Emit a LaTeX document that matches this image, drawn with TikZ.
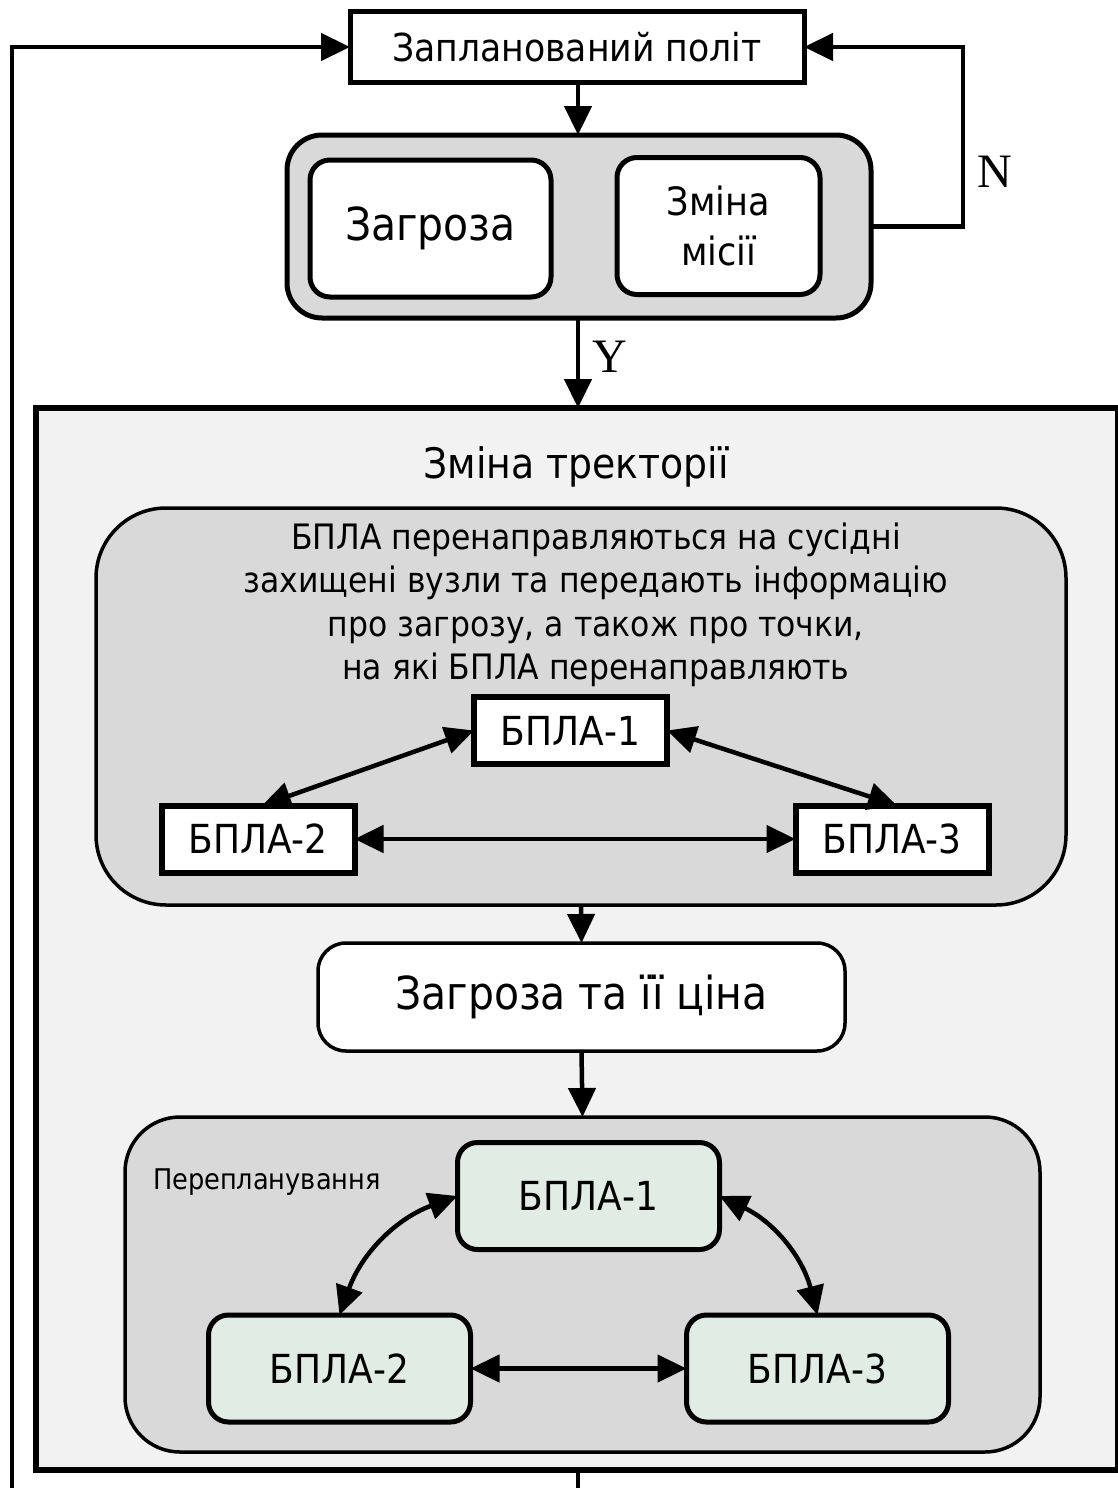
\documentclass[tikz,border=0pt]{standalone}
\usepackage{fontspec}
\setmainfont{DejaVu Sans Condensed}
\newfontfamily\serifnf{Liberation Serif}
\usetikzlibrary{arrows.meta,positioning,calc}
\definecolor{boxgray}{HTML}{D9D9D9}
\definecolor{bggray}{HTML}{F2F2F2}
\definecolor{palegreen}{HTML}{E1EDE4}
\begin{document}
\begin{tikzpicture}[x=1pt,y=-1pt,
  every node/.style={inner sep=0pt,outer sep=0pt},
  bigtip/.style={-{Triangle[width=27pt,length=29pt]}},
  dbltip/.style={{Triangle[width=27pt,length=29pt]}-{Triangle[width=27pt,length=29pt]}},
  conn/.style={line width=4.5pt},
  plainbox/.style={draw,line width=5pt,fill=white},
  roundwhite/.style={draw,line width=5pt,fill=white,rounded corners=20pt},
  sharpuav/.style={draw,line width=6pt,fill=white,minimum width=193pt,minimum height=67pt,font=\fontsize{40}{44}\selectfont},
  greenuav/.style={draw,line width=5pt,fill=palegreen,rounded corners=20pt,minimum width=262pt,minimum height=107pt,font=\fontsize{40}{44}\selectfont},
  graygroup/.style={draw,line width=3.5pt,fill=boxgray},
  yn/.style={font=\serifnf\fontsize{48}{50}\selectfont}
]
\useasboundingbox (0,0) rectangle (1118,1488);
\fill[white] (0,0) rectangle (1118,1488);

% outer big box
\node[draw,line width=5.5pt,fill=bggray,minimum width=1082pt,minimum height=1062pt] (big) at (577,939) {};
\node[font=\fontsize{42}{50}\selectfont] (title) at (576,467) {Зміна тректорії};

% top
\node[plainbox,minimum width=454pt,minimum height=70pt,font=\fontsize{38.5}{44}\selectfont] (top) at (577,47) {Запланований політ};

% decision
\node[draw,line width=5pt,fill=boxgray,rounded corners=35pt,minimum width=584pt,minimum height=183pt] (dec) at (579,226.5) {};
\node[roundwhite,minimum width=241pt,minimum height=137pt,font=\fontsize{45.5}{50}\selectfont] (zag) at (430.5,228.5) {Загроза};
\node[roundwhite,minimum width=203pt,minimum height=137pt,font=\fontsize{39}{50}\selectfont,align=center] (zm) at (718.5,226) {Зміна\\місії};

% first inner group
\node[graygroup,rounded corners=70pt,minimum width=970pt,minimum height=397pt] (g1) at (581,706.5) {};
\node[font=\fontsize{35}{43.5}\selectfont,align=center] (g1txt) at (596,605) {БПЛА перенаправляються на сусідні\\захищені вузли та передають інформацію\\про загрозу, а також про точки,\\на які БПЛА перенаправляють};
\node[sharpuav] (a1) at (570.5,730.5) {БПЛА-1};
\node[sharpuav] (a2) at (258,839) {БПЛА-2};
\node[sharpuav] (a3) at (892,839) {БПЛА-3};

% threat cost
\node[draw,line width=3.5pt,fill=white,rounded corners=28pt,minimum width=527pt,minimum height=108pt,font=\fontsize{45.5}{50}\selectfont] (tc) at (581.5,997) {Загроза та її ціна};

% second inner group
\node[graygroup,rounded corners=55pt,minimum width=915pt,minimum height=335pt] (g2) at (582.5,1284.5) {};
\node[anchor=west,font=\fontsize{28.5}{30}\selectfont] (repl) at (153,1182) {Перепланування};
\node[greenuav] (b1) at (588.5,1196) {БПЛА-1};
\node[greenuav] (b2) at (339.5,1368.5) {БПЛА-2};
\node[greenuav] (b3) at (817.5,1368.5) {БПЛА-3};

% connectors top part
\draw[conn,bigtip] (top.south -| 578,0) -- (dec.north -| 578,0);
\draw[conn,bigtip] (dec.south -| 578,0) -- (big.north -| 578,0);
\node[yn] (ylab) at (610,357) {Y};
\draw[conn,bigtip] (dec.east) -- ++(92,0) |- (top.east);
\node[yn] (nlab) at (995,172) {N};
\coordinate (loopstart) at (12,1488);
\draw[conn,bigtip] (loopstart) |- (top.west);
\coordinate (loopend) at (578,1488);
\draw[conn] (big.south -| loopend) -- (loopend);

% first group arrows
\draw[conn,dbltip] (a2.north -| 262,0) -- (a1.west);
\draw[conn,dbltip] (a1.east) -- (a3.north -| 897,0);
\draw[conn,dbltip] (a2.east) -- (a3.west);

% middle arrows
\draw[conn,bigtip] (g1.south) -- (tc.north);
\draw[conn,bigtip] (tc.south) -- (g2.north);

% second group arrows
\draw[conn,dbltip] (b1.west) to[bend right=25] (b2.north);
\draw[conn,dbltip] (b1.east) to[bend left=25] (b3.north);
\draw[conn,dbltip] (b2.east) -- (b3.west);
\end{tikzpicture}
\end{document}
